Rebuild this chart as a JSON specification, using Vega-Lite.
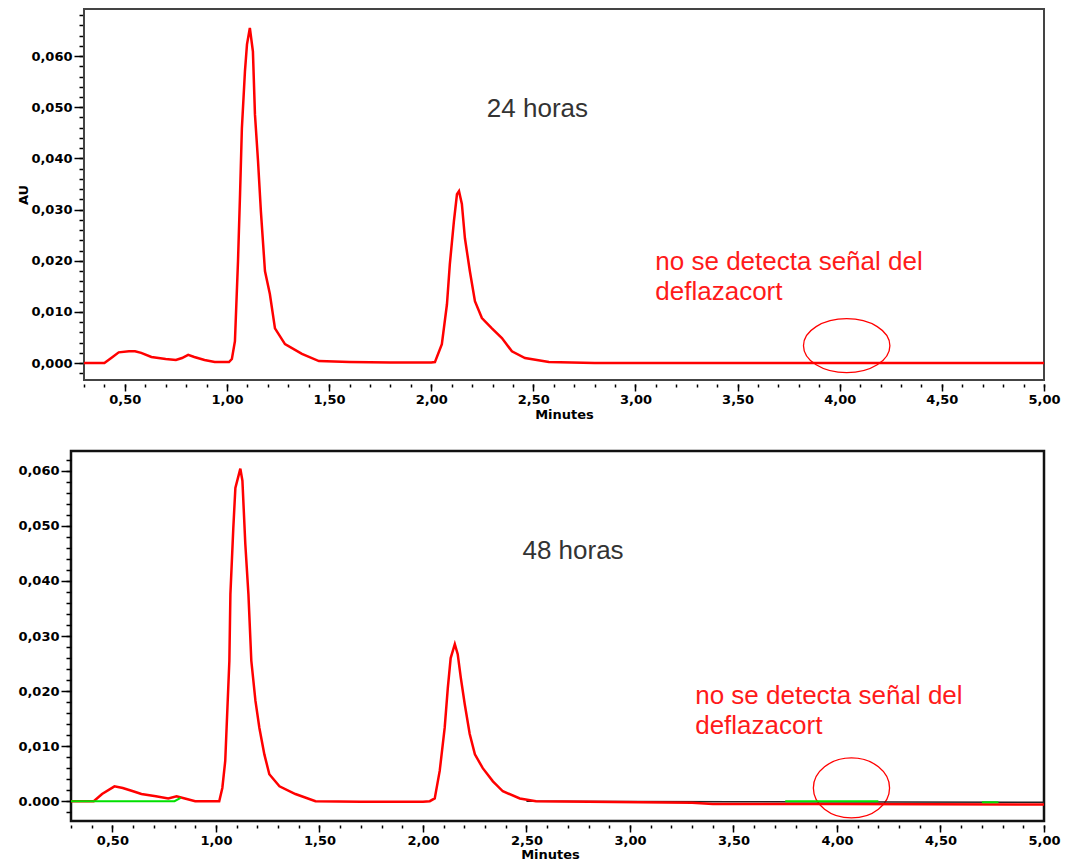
{
  "$schema": "https://vega.github.io/schema/vega-lite/v6.json",
  "background": "white",
  "padding": {"left": 16, "top": 8, "right": 0, "bottom": 0},
  "spacing": 28,
  "config": {
    "axis": {"grid": false, "domain": false, "labelFont": "DejaVu Sans", "labelFontWeight": "bold", "labelFontSize": 13, "labelColor": "#000", "tickColor": "#000", "tickWidth": 1.5, "titleFont": "DejaVu Sans", "titleFontWeight": "bold", "titleFontSize": 13, "titleColor": "#000"},
    "view": {"stroke": "#333", "strokeWidth": 2}
  },
  "datasets": {
    "topRed": [
      {"x": 0.30, "y": 0.0000}, {"x": 0.40, "y": 0.0000}, {"x": 0.44, "y": 0.0012}, {"x": 0.47, "y": 0.0021}, {"x": 0.52, "y": 0.0023}, {"x": 0.55, "y": 0.0023}, {"x": 0.58, "y": 0.0020}, {"x": 0.63, "y": 0.0012}, {"x": 0.70, "y": 0.0008}, {"x": 0.75, "y": 0.0006}, {"x": 0.78, "y": 0.0010}, {"x": 0.81, "y": 0.0016}, {"x": 0.84, "y": 0.0012}, {"x": 0.89, "y": 0.0006}, {"x": 0.94, "y": 0.0002}, {"x": 1.01, "y": 0.0002},
      {"x": 1.024, "y": 0.0008}, {"x": 1.039, "y": 0.0043}, {"x": 1.054, "y": 0.0199}, {"x": 1.064, "y": 0.0330}, {"x": 1.073, "y": 0.0459}, {"x": 1.088, "y": 0.0570}, {"x": 1.098, "y": 0.0623}, {"x": 1.112, "y": 0.0655}, {"x": 1.127, "y": 0.0609}, {"x": 1.137, "y": 0.0486}, {"x": 1.152, "y": 0.0395}, {"x": 1.166, "y": 0.0297}, {"x": 1.186, "y": 0.0180}, {"x": 1.210, "y": 0.0135}, {"x": 1.235, "y": 0.0068}, {"x": 1.284, "y": 0.0037}, {"x": 1.367, "y": 0.0018}, {"x": 1.45, "y": 0.0004}, {"x": 1.6, "y": 0.0002}, {"x": 1.8, "y": 0.0001}, {"x": 2.0, "y": 0.0001},
      {"x": 2.018, "y": 0.0002}, {"x": 2.052, "y": 0.0037}, {"x": 2.077, "y": 0.0115}, {"x": 2.091, "y": 0.0193}, {"x": 2.111, "y": 0.0277}, {"x": 2.126, "y": 0.0330}, {"x": 2.136, "y": 0.0336}, {"x": 2.150, "y": 0.0311}, {"x": 2.165, "y": 0.0244}, {"x": 2.189, "y": 0.0180}, {"x": 2.214, "y": 0.0121}, {"x": 2.248, "y": 0.0088}, {"x": 2.297, "y": 0.0068}, {"x": 2.346, "y": 0.0049}, {"x": 2.395, "y": 0.0023}, {"x": 2.459, "y": 0.0010}, {"x": 2.576, "y": 0.0002}, {"x": 2.8, "y": 0.0000}, {"x": 3.2, "y": 0.0000}, {"x": 3.8, "y": 0.0000}, {"x": 4.2, "y": 0.0000}, {"x": 5.0, "y": 0.0000}
    ],
    "botRed": [
      {"x": 0.30, "y": 0.0000}, {"x": 0.41, "y": 0.0000}, {"x": 0.45, "y": 0.0013}, {"x": 0.51, "y": 0.0027}, {"x": 0.55, "y": 0.0024}, {"x": 0.60, "y": 0.0018}, {"x": 0.64, "y": 0.0013}, {"x": 0.71, "y": 0.0009}, {"x": 0.77, "y": 0.0005}, {"x": 0.81, "y": 0.0009}, {"x": 0.85, "y": 0.0005}, {"x": 0.90, "y": 0.0000}, {"x": 1.016, "y": 0.0000},
      {"x": 1.031, "y": 0.0024}, {"x": 1.045, "y": 0.0073}, {"x": 1.065, "y": 0.0255}, {"x": 1.070, "y": 0.0376}, {"x": 1.084, "y": 0.0496}, {"x": 1.094, "y": 0.0569}, {"x": 1.118, "y": 0.0604}, {"x": 1.128, "y": 0.0582}, {"x": 1.142, "y": 0.0467}, {"x": 1.157, "y": 0.0376}, {"x": 1.171, "y": 0.0255}, {"x": 1.191, "y": 0.0182}, {"x": 1.210, "y": 0.0133}, {"x": 1.234, "y": 0.0085}, {"x": 1.258, "y": 0.0049}, {"x": 1.307, "y": 0.0027}, {"x": 1.384, "y": 0.0013}, {"x": 1.481, "y": 0.0000}, {"x": 1.7, "y": -0.0001}, {"x": 2.0, "y": -0.0001},
      {"x": 2.033, "y": 0.0000}, {"x": 2.057, "y": 0.0005}, {"x": 2.081, "y": 0.0055}, {"x": 2.105, "y": 0.0133}, {"x": 2.120, "y": 0.0205}, {"x": 2.134, "y": 0.0260}, {"x": 2.154, "y": 0.0285}, {"x": 2.168, "y": 0.0267}, {"x": 2.183, "y": 0.0224}, {"x": 2.202, "y": 0.0176}, {"x": 2.226, "y": 0.0122}, {"x": 2.251, "y": 0.0085}, {"x": 2.289, "y": 0.0060}, {"x": 2.338, "y": 0.0036}, {"x": 2.386, "y": 0.0018}, {"x": 2.468, "y": 0.0005}, {"x": 2.546, "y": 0.0000}, {"x": 2.8, "y": -0.0001}, {"x": 3.3, "y": -0.0003}, {"x": 3.4, "y": -0.0005}, {"x": 4.0, "y": -0.0005}, {"x": 5.0, "y": -0.0006}
    ],
    "botGreen": [
      {"x": 0.30, "y": 0.0000, "g": "a"}, {"x": 0.80, "y": 0.0000, "g": "a"}, {"x": 0.83, "y": 0.0006, "g": "a"},
      {"x": 3.75, "y": 0.0000, "g": "b"}, {"x": 4.20, "y": 0.0000, "g": "b"},
      {"x": 4.70, "y": -0.0002, "g": "c"}, {"x": 4.78, "y": -0.0002, "g": "c"}
    ],
    "botBlack": [
      {"x": 2.5, "y": 0.0000}, {"x": 3.5, "y": -0.0001}, {"x": 5.0, "y": -0.0002}
    ],
    "topLabel": [{"x": 2.52, "y": 0.0496, "t": "24 horas"}],
    "botLabel": [{"x": 2.725, "y": 0.0455, "t": "48 horas"}],
    "topNote": [{"x": 3.097, "y": 0.0197, "t": "no se detecta señal del"}, {"x": 3.097, "y": 0.0139, "t": "deflazacort"}],
    "botNote": [{"x": 3.315, "y": 0.0191, "t": "no se detecta señal del"}, {"x": 3.315, "y": 0.0136, "t": "deflazacort"}],
    "topCircle": [{"x": 4.034, "y": 0.0034}],
    "botCircle": [{"x": 4.07, "y": 0.0024}]
  },
  "vconcat": [
    {
      "width": 973,
      "height": 371,
      "view": {"stroke": null},
      "resolve": {"axis": {"x": "independent", "y": "independent"}},
      "layer": [
        {
          "data": {"name": "topLabel"},
          "mark": {"type": "text", "font": "Liberation Sans", "fontSize": 26, "align": "center", "baseline": "middle", "color": "#333"},
          "encoding": {
            "x": {"field": "x", "type": "quantitative", "scale": {"domain": [0.2364, 5.0], "nice": false, "zero": false},
                  "axis": {"orient": "bottom", "values": [0.3,0.4,0.5,0.6,0.7,0.8,0.9,1.0,1.1,1.2,1.3,1.4,1.5,1.6,1.7,1.8,1.9,2.0,2.1,2.2,2.3,2.4,2.5,2.6,2.7,2.8,2.9,3.0,3.1,3.2,3.3,3.4,3.5,3.6,3.7,3.8,3.9,4.0,4.1,4.2,4.3,4.4,4.5,4.6,4.7,4.8,4.9,5.0], "tickSize": 3, "offset": 4, "labels": false, "title": null}},
            "y": {"field": "y", "type": "quantitative", "scale": {"domain": [-0.0033, 0.0692], "nice": false, "zero": false},
                  "axis": {"orient": "left", "offset": -13, "values": [-0.002,0,0.002,0.004,0.006,0.008,0.010,0.012,0.014,0.016,0.018,0.020,0.022,0.024,0.026,0.028,0.030,0.032,0.034,0.036,0.038,0.040,0.042,0.044,0.046,0.048,0.050,0.052,0.054,0.056,0.058,0.060,0.062,0.064,0.066,0.068], "tickSize": 5, "labels": false, "title": null}},
            "text": {"field": "t"}
          }
        },
        {
          "data": {"values": [{}]},
          "mark": {"type": "rect", "fill": "transparent", "stroke": "#444", "strokeWidth": 2},
          "encoding": {
            "x": {"datum": 0.3, "type": "quantitative", "axis": null},
            "x2": {"datum": 5.0},
            "y": {"datum": -0.0033, "type": "quantitative", "axis": null},
            "y2": {"datum": 0.0692}
          }
        },
        {
          "data": {"name": "topNote"},
          "mark": {"type": "text", "font": "Liberation Sans", "fontSize": 26, "align": "left", "baseline": "middle", "color": "#ff1a1a"},
          "encoding": {
            "x": {"field": "x", "type": "quantitative", "axis": null},
            "y": {"field": "y", "type": "quantitative", "axis": null},
            "text": {"field": "t"}
          }
        },
        {
          "data": {"name": "topCircle"},
          "mark": {"type": "point", "shape": "M -1.6 0 A 1.6 1 0 1 0 1.6 0 A 1.6 1 0 1 0 -1.6 0 Z", "filled": false, "stroke": "#ff0000", "strokeWidth": 1.3, "size": 2916, "opacity": 1},
          "encoding": {
            "x": {"field": "x", "type": "quantitative", "axis": null},
            "y": {"field": "y", "type": "quantitative", "axis": null}
          }
        },
        {
          "data": {"name": "topRed"},
          "mark": {"type": "line", "color": "#ff0000", "strokeWidth": 2.5, "clip": true},
          "encoding": {
            "x": {"field": "x", "type": "quantitative",
                  "axis": {"orient": "bottom", "values": [0.5,1.0,1.5,2.0,2.5,3.0,3.5,4.0,4.5,5.0], "tickSize": 7, "offset": 4, "labelPadding": 2, "labelFlush": false,
                           "labelExpr": "replace(format(datum.value, '.2f'), '.', ',')", "title": "Minutes", "titleX": 493, "titleY": 30, "titleBaseline": "middle"}},
            "y": {"field": "y", "type": "quantitative",
                  "axis": {"orient": "left", "offset": -13, "values": [0,0.01,0.02,0.03,0.04,0.05,0.06], "tickSize": 10, "labelPadding": 2,
                           "labelExpr": "replace(format(datum.value, '.3f'), '.', ',')", "title": "AU", "titlePadding": 0}}
          }
        }
      ]
    },
    {
      "width": 973,
      "height": 370,
      "view": {"stroke": "#111", "strokeWidth": 2.5},
      "resolve": {"axis": {"x": "independent", "y": "independent"}},
      "layer": [
        {
          "data": {"name": "botLabel"},
          "mark": {"type": "text", "font": "Liberation Sans", "fontSize": 26, "align": "center", "baseline": "middle", "color": "#333"},
          "encoding": {
            "x": {"field": "x", "type": "quantitative", "scale": {"domain": [0.3, 5.0], "nice": false, "zero": false},
                  "axis": {"orient": "bottom", "values": [0.3,0.4,0.5,0.6,0.7,0.8,0.9,1.0,1.1,1.2,1.3,1.4,1.5,1.6,1.7,1.8,1.9,2.0,2.1,2.2,2.3,2.4,2.5,2.6,2.7,2.8,2.9,3.0,3.1,3.2,3.3,3.4,3.5,3.6,3.7,3.8,3.9,4.0,4.1,4.2,4.3,4.4,4.5,4.6,4.7,4.8,4.9,5.0], "tickSize": 3, "offset": 4, "labels": false, "title": null}},
            "y": {"field": "y", "type": "quantitative", "scale": {"domain": [-0.0036, 0.0636], "nice": false, "zero": false},
                  "axis": {"orient": "left", "values": [-0.002,0,0.002,0.004,0.006,0.008,0.010,0.012,0.014,0.016,0.018,0.020,0.022,0.024,0.026,0.028,0.030,0.032,0.034,0.036,0.038,0.040,0.042,0.044,0.046,0.048,0.050,0.052,0.054,0.056,0.058,0.060,0.062], "tickSize": 5, "labels": false, "title": null}},
            "text": {"field": "t"}
          }
        },
        {
          "data": {"name": "botNote"},
          "mark": {"type": "text", "font": "Liberation Sans", "fontSize": 26, "align": "left", "baseline": "middle", "color": "#ff1a1a"},
          "encoding": {
            "x": {"field": "x", "type": "quantitative", "axis": null},
            "y": {"field": "y", "type": "quantitative", "axis": null},
            "text": {"field": "t"}
          }
        },
        {
          "data": {"name": "botCircle"},
          "mark": {"type": "point", "shape": "M -1.27 0 A 1.27 1 0 1 0 1.27 0 A 1.27 1 0 1 0 -1.27 0 Z", "filled": false, "stroke": "#ff0000", "strokeWidth": 1.3, "size": 3600, "opacity": 1},
          "encoding": {
            "x": {"field": "x", "type": "quantitative", "axis": null},
            "y": {"field": "y", "type": "quantitative", "axis": null}
          }
        },
        {
          "data": {"name": "botBlack"},
          "mark": {"type": "line", "color": "#222", "strokeWidth": 1.5, "clip": true},
          "encoding": {
            "x": {"field": "x", "type": "quantitative", "axis": null},
            "y": {"field": "y", "type": "quantitative", "axis": null}
          }
        },
        {
          "data": {"name": "botRed"},
          "mark": {"type": "line", "color": "#ff0000", "strokeWidth": 2.5, "clip": true},
          "encoding": {
            "x": {"field": "x", "type": "quantitative",
                  "axis": {"orient": "bottom", "values": [0.5,1.0,1.5,2.0,2.5,3.0,3.5,4.0,4.5,5.0], "tickSize": 7, "offset": 4, "labelPadding": 2, "labelFlush": false,
                           "labelExpr": "replace(format(datum.value, '.2f'), '.', ',')", "title": "Minutes", "titleX": 479, "titleY": 29, "titleBaseline": "middle"}},
            "y": {"field": "y", "type": "quantitative",
                  "axis": {"orient": "left", "values": [0,0.01,0.02,0.03,0.04,0.05,0.06], "tickSize": 10, "labelPadding": 2,
                           "labelExpr": "datum.value == 0 ? '0.000' : replace(format(datum.value, '.3f'), '.', ',')", "title": null}}
          }
        },
        {
          "data": {"name": "botGreen"},
          "mark": {"type": "line", "color": "#00e000", "strokeWidth": 2, "clip": true},
          "encoding": {
            "x": {"field": "x", "type": "quantitative", "axis": null},
            "y": {"field": "y", "type": "quantitative", "axis": null},
            "detail": {"field": "g"}
          }
        }
      ]
    }
  ]
}
